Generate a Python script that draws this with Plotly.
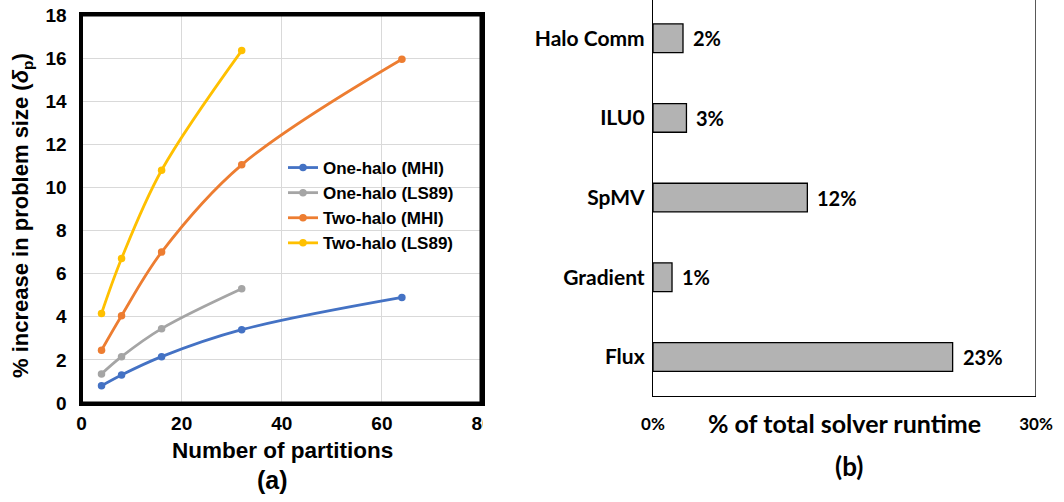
import plotly.graph_objects as go

# ---------------- data ----------------
partitions = [4, 8, 16, 32, 64]
partitions_ls89 = [4, 8, 16, 32]
one_halo_mhi = [0.8, 1.3, 2.15, 3.4, 4.9]
one_halo_ls89 = [1.35, 2.15, 3.45, 5.3]
two_halo_mhi = [2.45, 4.05, 7.0, 11.05, 15.95]
two_halo_ls89 = [4.15, 6.7, 10.8, 16.35]
series_names = ["One-halo (MHI)", "One-halo (LS89)", "Two-halo (MHI)", "Two-halo (LS89)"]
series_colors = ["#4472C4", "#A5A5A5", "#ED7D31", "#FFC000"]

kernels = ["Flux", "Gradient", "SpMV", "ILU0", "Halo Comm"]
runtime_share = [0.2347, 0.0149, 0.1209, 0.0262, 0.0235]
x2_ticks = [0, 0.30]
x2_ticktext = ["0%", "30%"]

W, H = 1064, 502
def px(x):
    return x / W
def py(y):
    return (H - y) / H

ARIAL = "Liberation Sans, Arial, sans-serif"
CALI = "Lato, Carlito, Calibri, sans-serif"

fig = go.Figure()

xs = [partitions, partitions_ls89, partitions, partitions_ls89]
ys = [one_halo_mhi, one_halo_ls89, two_halo_mhi, two_halo_ls89]
for name, col, x, y in zip(series_names, series_colors, xs, ys):
    fig.add_trace(go.Scatter(
        x=x, y=y, name=name, mode="lines+markers",
        line=dict(color=col, width=2.8, shape="spline", smoothing=1.0),
        marker=dict(color=col, size=7.5),
        xaxis="x", yaxis="y",
    ))

fig.add_trace(go.Bar(
    x=runtime_share, y=kernels, orientation="h", width=0.36,
    marker=dict(color="#B3B3B3", line=dict(color="#000000", width=1.3)),
    xaxis="x2", yaxis="y2", showlegend=False,
))

annotations = []
for k, v in zip(kernels, runtime_share):
    annotations.append(dict(
        x=v, y=k, xref="x2", yref="y2", text=f"{round(v*100)}%",
        showarrow=False, xanchor="left", yanchor="middle", xshift=8,
        font=dict(family=CALI, size=20, color="black", weight="bold"),
    ))

def paper_text(x, y, text, family, size, angle=0):
    return dict(x=px(x), y=py(y), xref="paper", yref="paper", text=text,
                textangle=angle, showarrow=False, xanchor="center", yanchor="middle",
                font=dict(family=family, size=size, color="black", weight="bold"))

annotations += [
    paper_text(22, 216, "% increase in problem size (<i>δ</i><sub>p</sub>)", ARIAL, 22, -90),
    paper_text(282, 450, "Number of partitions", ARIAL, 22.5),
    paper_text(272, 480, "(a)", ARIAL, 25),
    paper_text(844, 423, "% of total solver runtime", CALI, 25),
    paper_text(849, 466, "(b)", CALI, 26),
]

shapes = [
    # frame of panel (a)
    dict(type="rect", xref="paper", yref="paper",
         x0=px(81.5), x1=px(481), y0=py(403), y1=py(15),
         line=dict(color="black", width=3), fillcolor="rgba(0,0,0,0)", layer="above"),
    # right border of panel (b)
    dict(type="line", xref="x2", yref="paper", x0=0.30, x1=0.30,
         y0=py(396), y1=1.0, line=dict(color="black", width=1.3)),
    # panel (b) image covers the left plot's cut "80" label
    dict(type="rect", xref="paper", yref="paper", x0=px(483), x1=px(560),
         y0=py(445), y1=py(406), fillcolor="white", line=dict(width=0), layer="above"),
]

fig.update_layout(
    width=W, height=H,
    margin=dict(l=0, r=0, t=0, b=0, autoexpand=False),
    paper_bgcolor="white", plot_bgcolor="white",
    showlegend=True,
    legend=dict(x=px(283), y=py(150), xanchor="left", yanchor="top",
                bgcolor="rgba(0,0,0,0)", tracegroupgap=0,
                font=dict(family=ARIAL, size=17, color="black", weight="bold")),
    xaxis=dict(domain=[px(81.5), px(482)], range=[0, 80], dtick=20, automargin=False,
               showgrid=True, gridcolor="#D9D9D9", gridwidth=1,
               showline=True, linecolor="black", linewidth=3, mirror=True,
               ticks="", zeroline=False, ticklabelstandoff=1,
               tickfont=dict(family=ARIAL, size=19, color="black", weight="bold")),
    yaxis=dict(domain=[py(403), py(15)], range=[0, 18], dtick=2, automargin=False,
               showgrid=True, gridcolor="#D9D9D9", gridwidth=1,
               showline=True, linecolor="black", linewidth=3, mirror=True,
               ticks="", zeroline=False, ticklabelstandoff=8,
               tickfont=dict(family=ARIAL, size=19, color="black", weight="bold")),
    xaxis2=dict(domain=[px(653), px(1036)], range=[0, 0.30], anchor="y2", automargin=False,
                tickvals=x2_ticks, ticktext=x2_ticktext,
                showgrid=False, zeroline=False, showline=True,
                linecolor="black", linewidth=1.3, ticks="", ticklabelstandoff=12,
                tickfont=dict(family=CALI, size=17, color="black", weight="bold")),
    yaxis2=dict(domain=[py(396), 1.0], anchor="x2", type="category", automargin=False,
                categoryorder="array", categoryarray=kernels,
                range=[-0.49, 4.48], showgrid=False, zeroline=False,
                showline=True, linecolor="black", linewidth=1.3, ticks="",
                ticklabelstandoff=3,
                tickfont=dict(family=CALI, size=21, color="black", weight="bold")),
    annotations=annotations,
    shapes=shapes,
)

fig.write_html("out.html")
